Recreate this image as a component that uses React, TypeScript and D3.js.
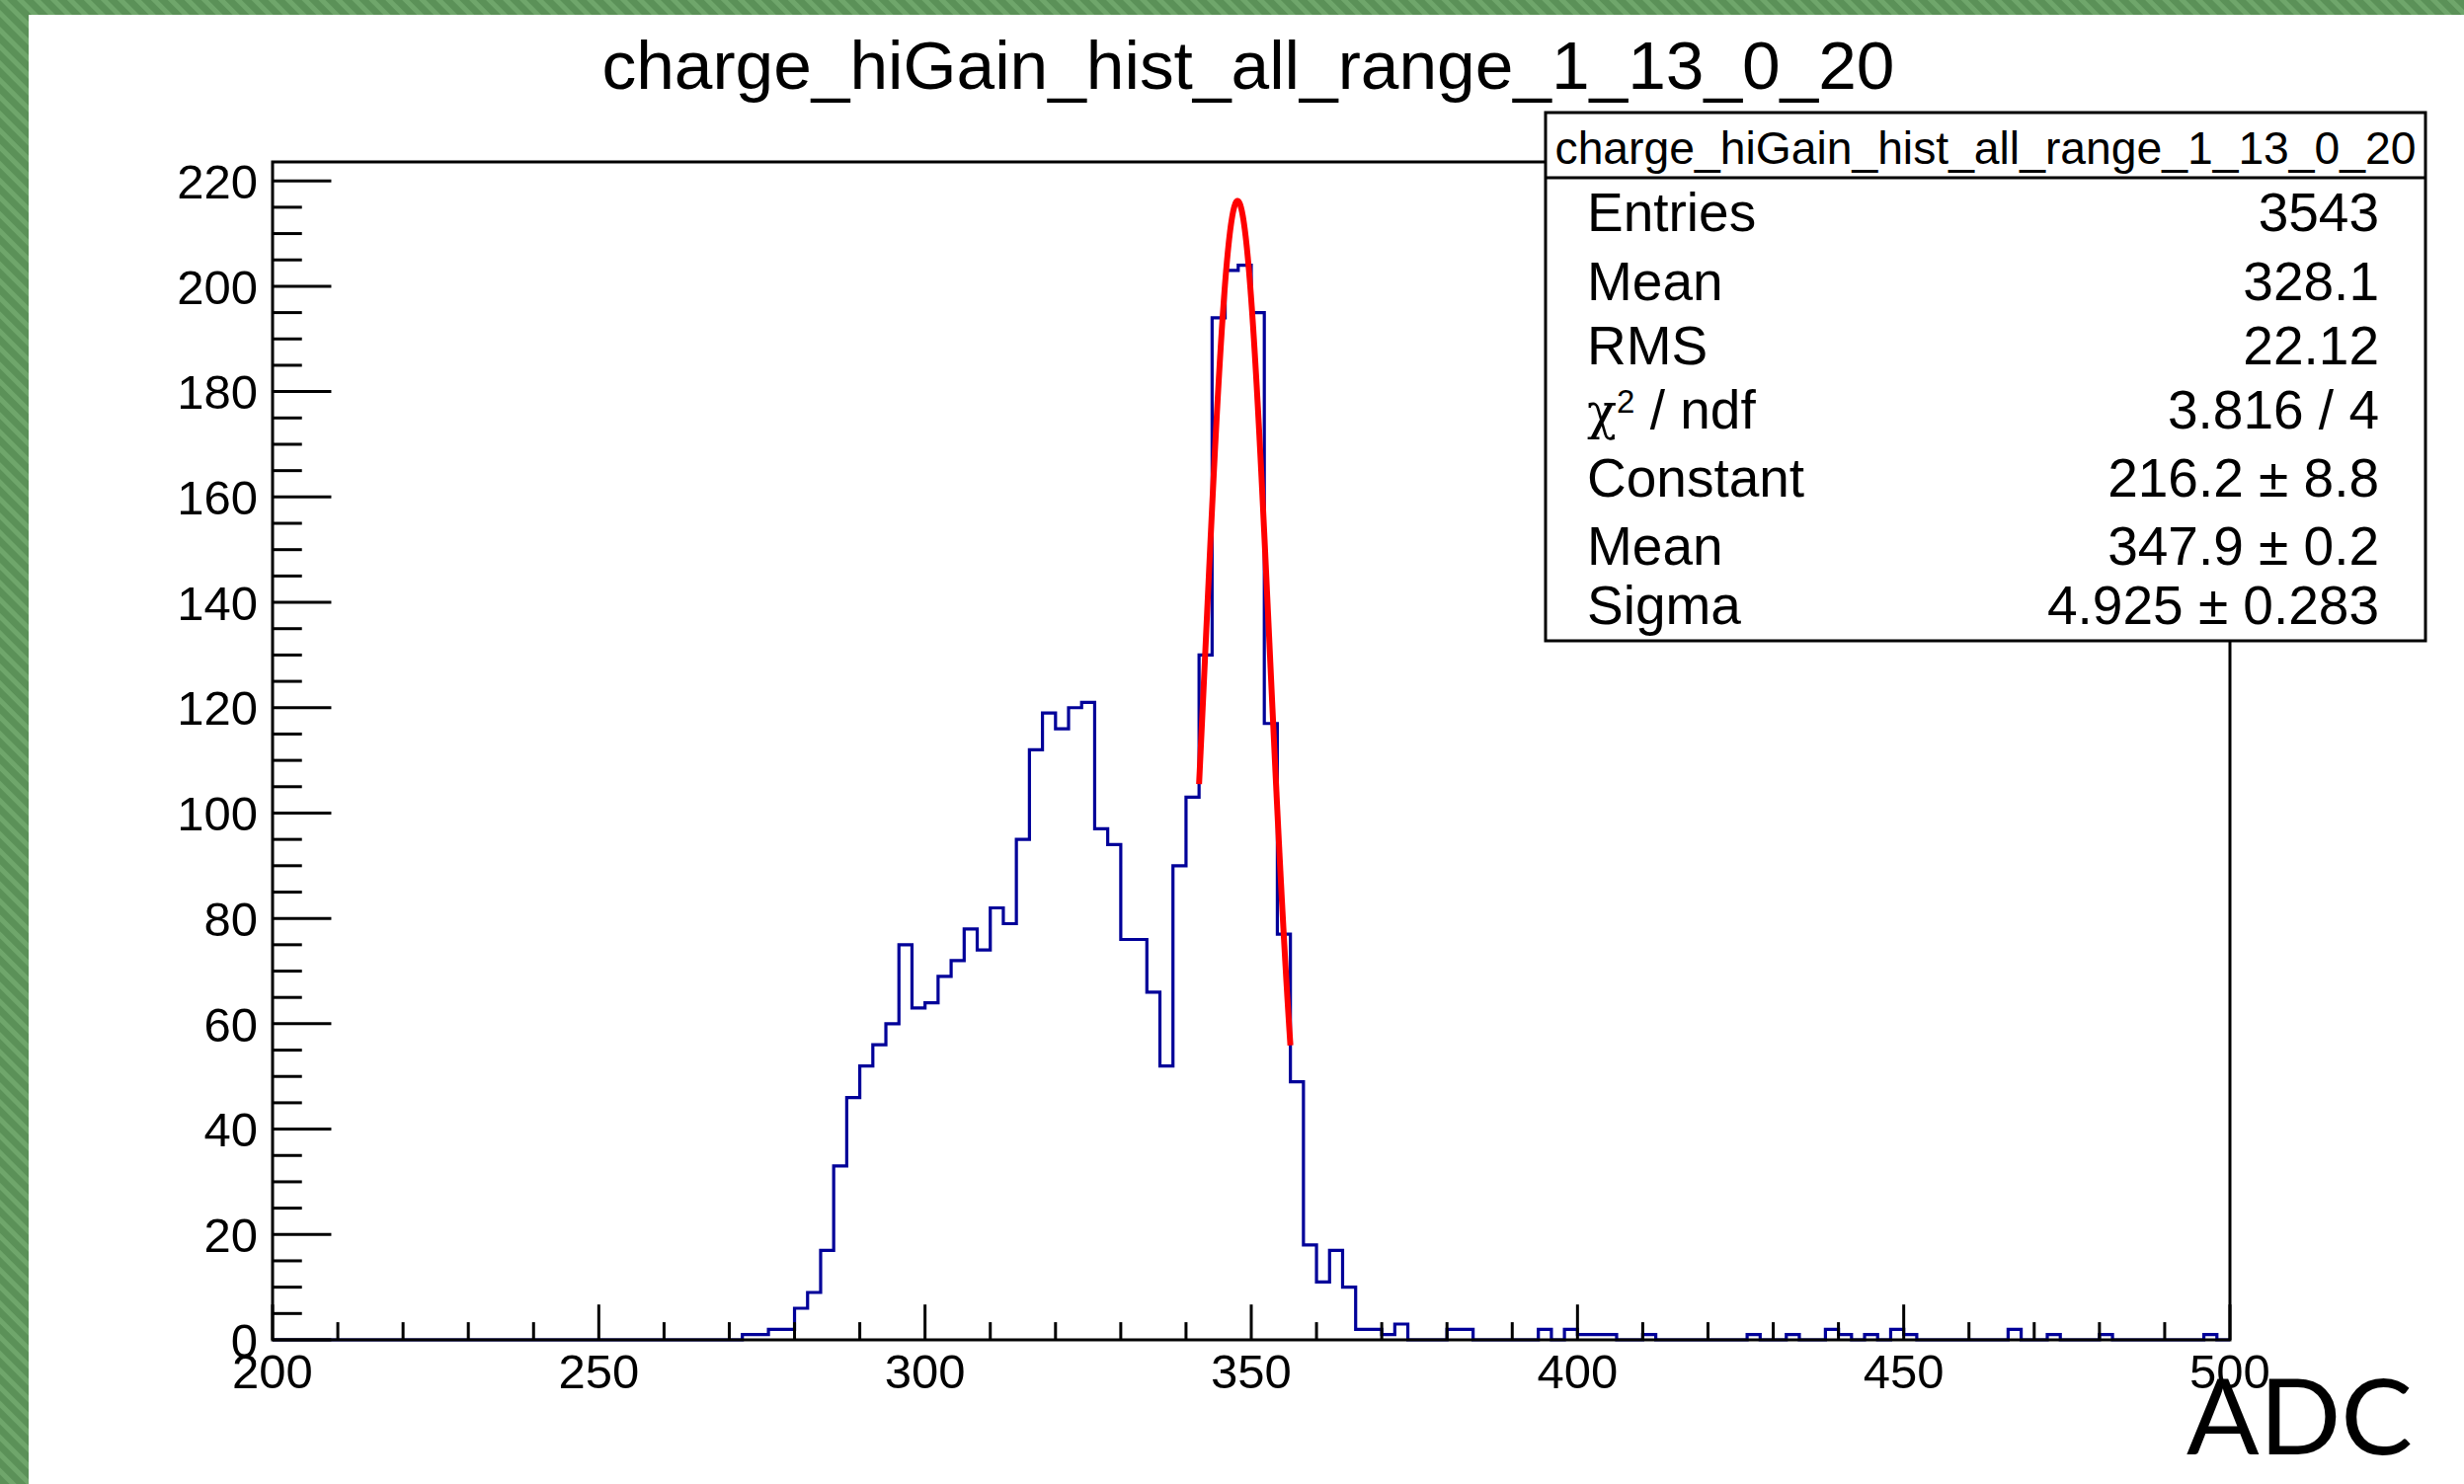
import React from "react";
import * as d3 from "d3";

// ---- data ----
const histTitle = "charge_hiGain_hist_all_range_1_13_0_20";
const xAxisTitle = "ADC";
const xDomain = [200, 500];
const binWidth = 2;
const yDomain = [0, 223.6];
// lower edges of the non-empty bins and their counts
const binLow = [272, 274, 276, 278, 280, 282, 284, 286, 288, 290, 292, 294, 296, 298, 300, 302, 304, 306, 308, 310, 312, 314, 316, 318, 320, 322, 324, 326, 328, 330, 332, 334, 336, 338, 340, 342, 344, 346, 348, 350, 352, 354, 356, 358, 360, 362, 364, 366, 368, 370, 372, 380, 382, 394, 398, 400, 402, 404, 410, 426, 432, 438, 440, 444, 448, 450, 466, 472, 480, 496];
const binCount = [1, 1, 2, 2, 6, 9, 17, 33, 46, 52, 56, 60, 75, 63, 64, 69, 72, 78, 74, 82, 79, 95, 112, 119, 116, 120, 121, 97, 94, 76, 76, 66, 52, 90, 103, 130, 194, 203, 204, 195, 117, 77, 49, 18, 11, 17, 10, 2, 2, 1, 3, 2, 2, 2, 2, 1, 1, 1, 1, 1, 1, 2, 1, 1, 2, 1, 2, 1, 1, 1];
// gaussian fit
const fitConstant = 216.2;
const fitMean = 347.9;
const fitSigma = 4.925;
const fitRange = [342, 356];
const xMajorTicks = [200, 250, 300, 350, 400, 450, 500];
const yMajorTicks = [0, 20, 40, 60, 80, 100, 120, 140, 160, 180, 200, 220];
// stats box
const statLabels = ["Entries", "Mean", "RMS", "chi2", "Constant", "Mean", "Sigma"];
const statValues = ["3543", "328.1", "22.12", "3.816 / 4", "216.2 \u00b1 8.8", "347.9 \u00b1 0.2", "4.925 \u00b1 0.283"];

const W = 2495;
const H = 1503;
const FONT = "'Liberation Sans', Arial, Helvetica, sans-serif";
// baselines of the stats rows (layout)
const statBaselines = [234, 304, 369, 434, 503, 572, 632];

export default function App() {
  const left = 276, right = 2258, top = 164, bottom = 1357;
  const x = d3.scaleLinear().domain(xDomain).range([left, right]);
  const y = d3.scaleLinear().domain(yDomain).range([bottom, top]);

  // full histogram
  const nBins = Math.round((xDomain[1] - xDomain[0]) / binWidth);
  const counts = new Array(nBins).fill(0);
  binLow.forEach((lo, i) => {
    counts[Math.round((lo - xDomain[0]) / binWidth)] = binCount[i];
  });
  const pts: [number, number][] = counts.map((c, i) => [xDomain[0] + i * binWidth, c]);
  pts.push([xDomain[1], counts[nBins - 1]]);
  const histPath = d3
    .line<[number, number]>()
    .x((d) => x(d[0]))
    .y((d) => y(d[1]))
    .curve(d3.curveStepAfter)(pts);

  const fitPts: [number, number][] = d3.range(0, 301).map((i) => {
    const xv = fitRange[0] + ((fitRange[1] - fitRange[0]) * i) / 300;
    return [xv, fitConstant * Math.exp(-((xv - fitMean) ** 2) / (2 * fitSigma * fitSigma))];
  });
  const fitPath = d3
    .line<[number, number]>()
    .x((d) => x(d[0]))
    .y((d) => y(d[1]))(fitPts);

  const xMinor = d3.range(xDomain[0], xDomain[1] + 0.001, 10);
  const yMinor = d3.range(0, yDomain[1], 5);
  const xTickLen = 0.03 * (bottom - top);
  const yTickLen = 0.03 * (right - left);

  // stats box
  const bx0 = 1565, bx1 = 2456, by0 = 114, byHead = 180, by1 = 649;
  const statFont = 55;

  return (
    <svg
      width={W}
      height={H}
      style={{ position: "absolute", left: 0, top: 0, background: "#fff" }}
      fontFamily={FONT}
    >
      <defs>
        <pattern id="hatch" width="12" height="12" patternUnits="userSpaceOnUse" patternTransform="rotate(-45)">
          <rect width="12" height="12" fill="#5b9158" />
          <rect width="5" height="12" fill="#6fa66b" />
        </pattern>
      </defs>
      <rect x={0} y={0} width={W} height={H} fill="#fff" />
      <rect x={0} y={0} width={W} height={15} fill="url(#hatch)" />
      <rect x={0} y={0} width={29} height={H} fill="url(#hatch)" />

      {/* title */}
      <text x={1264} y={90} fontSize={69} textAnchor="middle" fill="#000" textLength={1309} lengthAdjust="spacingAndGlyphs">
        {histTitle}
      </text>

      {/* histogram */}
      <path d={histPath || ""} fill="none" stroke="#000099" strokeWidth={3.2} />
      {/* fit */}
      <path d={fitPath || ""} fill="none" stroke="#ff0000" strokeWidth={6} />

      {/* frame */}
      <rect x={left} y={top} width={right - left} height={bottom - top} fill="none" stroke="#000" strokeWidth={3} />

      {/* x ticks */}
      {xMinor.map((v) => {
        const major = xMajorTicks.includes(v);
        return (
          <line key={"xm" + v} x1={x(v)} x2={x(v)} y1={bottom} y2={bottom - (major ? xTickLen : xTickLen / 2)} stroke="#000" strokeWidth={3} />
        );
      })}
      {xMajorTicks.map((v) => (
        <text key={"xl" + v} x={x(v)} y={1406} fontSize={49} textAnchor="middle" fill="#000">
          {v}
        </text>
      ))}
      {/* y ticks */}
      {yMinor.map((v) => {
        const major = yMajorTicks.includes(v);
        return (
          <line key={"ym" + v} x1={left} x2={left + (major ? yTickLen : yTickLen / 2)} y1={y(v)} y2={y(v)} stroke="#000" strokeWidth={3} />
        );
      })}
      {yMajorTicks.map((v) => (
        <text key={"yl" + v} x={261} y={y(v)} dy="0.36em" fontSize={49} textAnchor="end" fill="#000">
          {v}
        </text>
      ))}

      {/* axis title */}
      <text x={2443} y={1473} fontSize={106} textAnchor="end" fill="#000" fontFamily="Lato, 'Noto Sans', sans-serif" textLength={229} lengthAdjust="spacingAndGlyphs">
        {xAxisTitle}
      </text>

      {/* stats box */}
      <rect x={bx0} y={by0} width={bx1 - bx0} height={by1 - by0} fill="#fff" stroke="#000" strokeWidth={3} />
      <line x1={bx0} x2={bx1} y1={byHead} y2={byHead} stroke="#000" strokeWidth={3} />
      <text x={(bx0 + bx1) / 2} y={166} fontSize={46} textAnchor="middle" fill="#000" textLength={872} lengthAdjust="spacingAndGlyphs">
        {histTitle}
      </text>
      {statLabels.map((lab, i) => {
        const by = statBaselines[i];
        return (
          <g key={"st" + i}>
            <text x={1607} y={by} fontSize={statFont} fill="#000">
              {lab === "chi2" ? (
                <>
                  <tspan fontFamily="'DejaVu Serif', serif" fontSize={statFont * 0.9}>{"\u03c7"}</tspan>
                  <tspan dy="-0.5em" fontSize={statFont * 0.6}>2</tspan>
                  <tspan dy="0.3em">{" / ndf"}</tspan>
                </>
              ) : (
                lab
              )}
            </text>
            <text x={2409} y={by} fontSize={statFont} textAnchor="end" fill="#000">
              {statValues[i]}
            </text>
          </g>
        );
      })}
    </svg>
  );
}
